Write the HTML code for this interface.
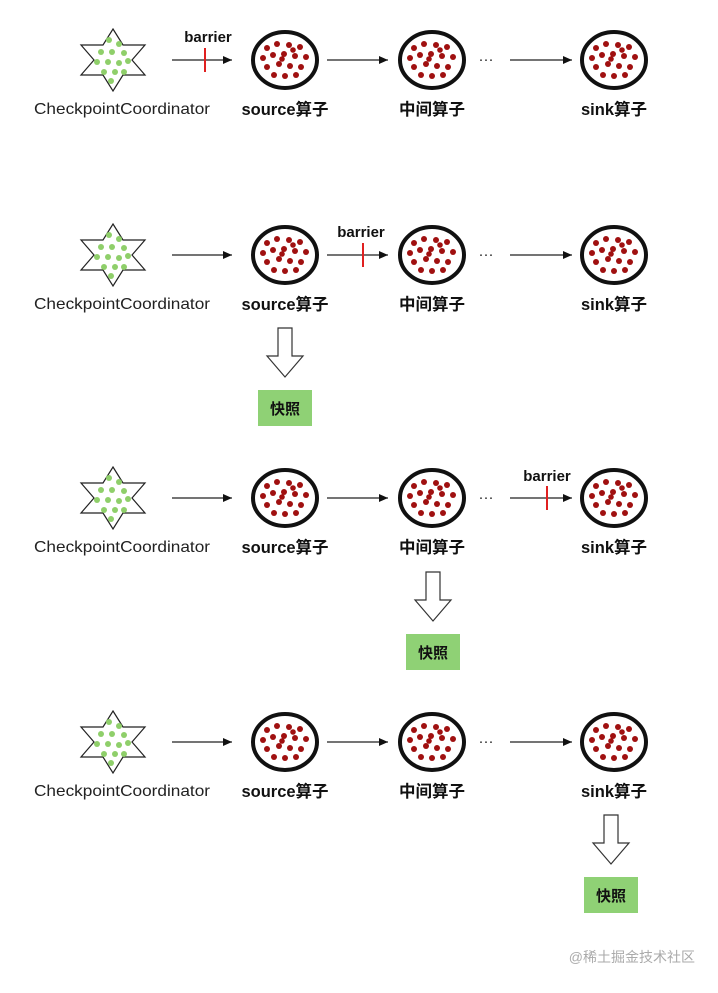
<!DOCTYPE html>
<html><head><meta charset="utf-8"><style>
html,body{margin:0;padding:0;background:#fff}
svg text{font-family:"Liberation Sans","Noto Sans CJK SC",sans-serif}
</style></head><body>
<svg width="718" height="988" viewBox="0 0 718 988" xmlns="http://www.w3.org/2000/svg">
<defs>
<marker id="ah" markerWidth="10" markerHeight="10" refX="9" refY="5" orient="auto" markerUnits="userSpaceOnUse">
<path d="M0,1 L9,5 L0,9 Z" fill="#111"/></marker>
<g id="rdots" fill="#a01010">
<circle cx="-18" cy="-12" r="3"/><circle cx="-8" cy="-16" r="3"/><circle cx="4" cy="-15" r="3"/><circle cx="15" cy="-13" r="3"/>
<circle cx="-22" cy="-2" r="3"/><circle cx="-12" cy="-5" r="3"/><circle cx="-1" cy="-6" r="3"/><circle cx="10" cy="-4" r="3"/><circle cx="21" cy="-3" r="3"/>
<circle cx="-18" cy="7" r="3"/><circle cx="-6" cy="4" r="3"/><circle cx="5" cy="6" r="3"/><circle cx="16" cy="7" r="3"/>
<circle cx="-11" cy="15" r="3"/><circle cx="0" cy="16" r="3"/><circle cx="11" cy="15" r="3"/><circle cx="-3" cy="-1" r="2.8"/><circle cx="8" cy="-10" r="2.8"/>
</g>
<g id="op">
<ellipse cx="0" cy="0" rx="32" ry="28" fill="#fff" stroke="#111" stroke-width="4"/>
<use href="#rdots"/>
</g>
<g id="star">
<polygon points="0,-31 10,-15 32,-15 19,0 32,15 10,15 0,31 -10,15 -32,15 -19,0 -32,-15 -10,-15" fill="#fff" stroke="#222" stroke-width="1.2"/>
<g fill="#8fcf6a">
<circle cx="-4" cy="-20" r="3"/><circle cx="6" cy="-16" r="3"/><circle cx="-12" cy="-8" r="3"/><circle cx="-1" cy="-8" r="3"/><circle cx="11" cy="-7" r="3"/>
<circle cx="-16" cy="2" r="3"/><circle cx="-5" cy="2" r="3"/><circle cx="6" cy="3" r="3"/><circle cx="15" cy="1" r="3"/>
<circle cx="-9" cy="12" r="3"/><circle cx="2" cy="12" r="3"/><circle cx="11" cy="12" r="3"/><circle cx="-2" cy="21" r="3"/>
</g></g>
<g id="row">
<use href="#star" x="113" y="60"/>
<use href="#op" x="285" y="60"/>
<use href="#op" x="432" y="60"/>
<use href="#op" x="614" y="60"/>
<line x1="172" y1="60" x2="232" y2="60" stroke="#222" stroke-width="1.3" marker-end="url(#ah)"/>
<line x1="327" y1="60" x2="388" y2="60" stroke="#222" stroke-width="1.3" marker-end="url(#ah)"/>
<line x1="510" y1="60" x2="572" y2="60" stroke="#222" stroke-width="1.3" marker-end="url(#ah)"/>
<text x="486" y="64" font-size="15" text-anchor="middle" fill="#222">···</text>
<text x="122" y="114" font-size="16" text-anchor="middle" fill="#222" textLength="176" lengthAdjust="spacingAndGlyphs">CheckpointCoordinator</text>
<text x="285" y="115" font-size="16.5" font-weight="bold" text-anchor="middle" fill="#111">source算子</text>
<text x="432" y="115" font-size="16.5" font-weight="bold" text-anchor="middle" fill="#111">中间算子</text>
<text x="614" y="115" font-size="16.5" font-weight="bold" text-anchor="middle" fill="#111">sink算子</text>
</g>
<g id="snap">
<path d="M-7,0 H7 V28 H18 L0,49 L-18,28 H-7 Z" fill="#fff" stroke="#333" stroke-width="1.2"/>
<rect x="-27" y="62" width="54" height="36" fill="#8fd175"/>
<text x="0" y="86" font-size="15" font-weight="bold" text-anchor="middle" fill="#111">快照</text>
</g>
</defs>
<use href="#row" y="0"/>
<use href="#row" y="195"/>
<use href="#row" y="438"/>
<use href="#row" y="682"/>
<g stroke="#e02020" stroke-width="2">
<line x1="205" y1="48" x2="205" y2="72"/>
<line x1="363" y1="243" x2="363" y2="267"/>
<line x1="547" y1="486" x2="547" y2="510"/>
</g>
<g font-size="15" font-weight="bold" fill="#111" text-anchor="middle">
<text x="208" y="42">barrier</text>
<text x="361" y="237">barrier</text>
<text x="547" y="481">barrier</text>
</g>
<use href="#snap" x="285" y="328"/>
<use href="#snap" x="433" y="572"/>
<use href="#snap" x="611" y="815"/>
<text x="695" y="962" font-size="14" text-anchor="end" fill="#aaa">@稀土掘金技术社区</text>
</svg>
</body></html>
